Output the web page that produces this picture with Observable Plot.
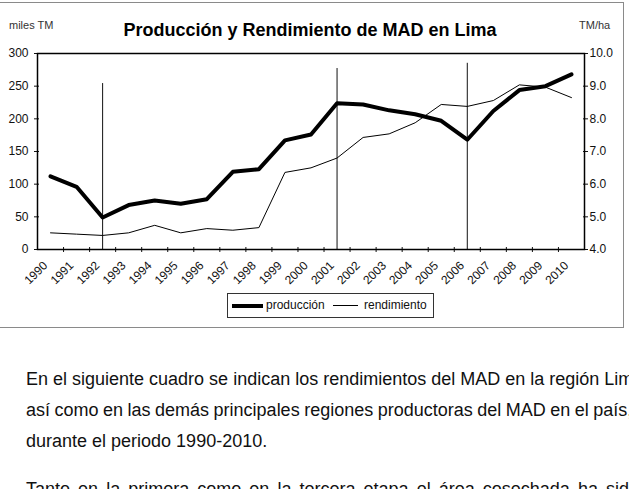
<!DOCTYPE html>
<html>
<head>
<meta charset="utf-8">
<script src="https://cdn.jsdelivr.net/npm/d3@7"></script>
<script src="https://cdn.jsdelivr.net/npm/@observablehq/plot@0.6"></script>
<style>
  html, body { margin: 0; padding: 0; background: #fff; }
  body { width: 629px; height: 489px; overflow: hidden; position: relative; font-family: "Liberation Sans", Arial, sans-serif; }
  .abs { position: absolute; white-space: nowrap; }
  #frame { position: absolute; left: -1px; top: 2px; width: 623px; height: 324px; border: 1px solid #8a8a8a; }
  #title { left: 0; width: 620px; text-align: center; top: 21px; font-size: 18px; line-height: 18px; font-weight: bold; color: #000; }
  .unit { font-size: 11px; line-height: 11px; color: #333; }
  #legend { position: absolute; left: 227px; top: 293px; width: 205px; height: 23px; border: 1px solid #333; background: #fff; }
  .legtext { position: absolute; font-size: 12px; line-height: 12px; top: 5px; color: #111; }
  .sw { position: absolute; height: 0; }
  .para { position: absolute; left: 26px; font-size: 18px; line-height: 18px; color: #111; white-space: nowrap; }
  .just { text-align: justify; text-align-last: justify; }
  #chart { position: absolute; left: 0; top: 0; }
</style>
</head>
<body>
<div id="frame"></div>
<div id="chart"></div>
<div id="title" class="abs">Producción y Rendimiento de MAD en Lima</div>
<div class="abs unit" style="left:9px; top:20px;">miles TM</div>
<div class="abs unit" style="left:579px; top:20px;">TM/ha</div>
<div id="legend">
  <div class="sw" style="left:4px; width:31px; top:10px; border-top:4px solid #000;"></div>
  <div class="legtext" style="left:38px;">producción</div>
  <div class="sw" style="left:105px; width:25px; top:11px; border-top:1px solid #000;"></div>
  <div class="legtext" style="left:136px;">rendimiento</div>
</div>
<div class="para" style="top:370px;">En el siguiente cuadro se indican los rendimientos del MAD en la región Lima,</div>
<div class="para" style="top:401px; word-spacing:-0.5px;">así como en las demás principales regiones productoras del MAD en el país,</div>
<div class="para" style="top:432px;">durante el periodo 1990-2010.</div>
<div class="para just" style="top:480px; width:613px;">Tanto en la primera como en la tercera etapa el área cosechada ha sido</div>
<script>
const years = [1990,1991,1992,1993,1994,1995,1996,1997,1998,1999,2000,2001,2002,2003,2004,2005,2006,2007,2008,2009,2010];
const produccion = [112,96,49,68,75,70,77,119,123,167,176,224,222,213,207,197,168,212,244,250,268];
const rendimiento = [4.51,4.47,4.43,4.51,4.74,4.51,4.64,4.59,4.67,6.36,6.50,6.80,7.43,7.54,7.88,8.44,8.38,8.56,9.04,8.97,8.65];
const leftTicks = [0,50,100,150,200,250,300];
const rightTicks = [4,5,6,7,8,9,10];
const stageYears = [1992, 2001, 2006];
const stageTops = [254, 277, 285];

const data = years.map((y, i) => ({year: y, prod: produccion[i], rend: rendimiento[i]}));
const stages = stageYears.map((y, i) => ({year: y, top: stageTops[i]}));
const boundaries = years.map(y => y + 0.5).slice(0, -1);
// map the right (TM/ha) axis onto the left scale
const rMin = rightTicks[0], rMax = rightTicks[rightTicks.length - 1];
const lMax = leftTicks[leftTicks.length - 1];
const toLeft = r => (r - rMin) * lMax / (rMax - rMin);

const chart = Plot.plot({
  width: 629,
  height: 330,
  marginTop: 53,
  marginBottom: 81,
  marginLeft: 37,
  marginRight: 45,
  style: {fontFamily: "'Liberation Sans', Arial, sans-serif", fontSize: "12px", color: "#111", background: "transparent", overflow: "visible"},
  x: {domain: [years[0] - 0.5, years[years.length - 1] + 0.5], axis: null},
  y: {domain: [leftTicks[0], lMax], axis: null},
  marks: [
    Plot.axisY({anchor: "left", ticks: leftTicks, tickSize: 3, tickPadding: 6, tickFormat: d => String(d), label: null, fontSize: 12}),
    Plot.axisY({anchor: "left", ticks: leftTicks, tickSize: -2, tickFormat: () => "", label: null}),
    Plot.axisY({anchor: "right", ticks: rightTicks.map(toLeft), tickSize: 3, tickPadding: 2, tickFormat: (d, i) => rightTicks[i].toFixed(1), label: null, fontSize: 12}),
    Plot.axisY({anchor: "right", ticks: rightTicks.map(toLeft), tickSize: -2, tickFormat: () => "", label: null}),
    Plot.axisX({anchor: "bottom", ticks: boundaries, tickSize: 3, tickFormat: () => "", label: null}),
    Plot.axisX({anchor: "bottom", ticks: boundaries, tickSize: -2, tickFormat: () => "", label: null}),
    Plot.axisX({anchor: "bottom", ticks: years, tickSize: 0, tickPadding: 14, dx: -5, tickRotate: -45, tickFormat: d => String(d), label: null, fontSize: 12}),
    Plot.ruleX(stages, {x: "year", y1: leftTicks[0], y2: "top", stroke: "#111", strokeWidth: 1}),
    Plot.line(data, {x: "year", y: d => toLeft(d.rend), stroke: "#000", strokeWidth: 1}),
    Plot.line(data, {x: "year", y: "prod", stroke: "#000", strokeWidth: 4}),
    Plot.frame({stroke: "#000", strokeWidth: 1.5})
  ]
});
document.getElementById("chart").appendChild(chart);
</script>
</body>
</html>
